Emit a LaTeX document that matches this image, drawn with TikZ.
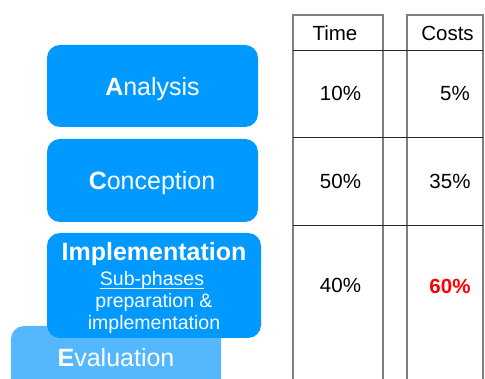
\documentclass[tikz,border=0pt]{standalone}
\usepackage{fontspec}
\setmainfont{Liberation Sans}
\definecolor{phaseblue}{HTML}{0099FF}
\definecolor{evalblue}{HTML}{55B8FF}
\definecolor{rulegray}{HTML}{7F7F7F}
\definecolor{hotred}{HTML}{FF0000}
\begin{document}
\begin{tikzpicture}[x=1pt,y=-1pt,
  phase/.style={fill=phaseblue, rounded corners=13pt, draw=none, inner sep=0pt},
  evalbox/.style={fill=evalblue, rounded corners=13pt, draw=none, inner sep=0pt},
  big/.style={text=white, anchor=base, inner sep=0pt, font=\fontsize{25}{25}\selectfont},
  small/.style={text=white, anchor=base, inner sep=0pt, font=\fontsize{19.5}{19.5}\selectfont},
  cell/.style={text=black, anchor=base, inner sep=0pt, font=\fontsize{20.5}{20.5}\selectfont},
  vrule/.style={draw=rulegray, line width=1.5pt},
  hrule/.style={draw=black!85, line width=1pt}]
\useasboundingbox (0,0) rectangle (485,379);
\clip (0,0) rectangle (485,379);
\fill[white] (0,0) rectangle (485,379);
% phase boxes
\node[evalbox, minimum width=210pt, minimum height=100pt] (evalb) at (116,376) {};
\node[phase, minimum width=211pt, minimum height=82pt] (anab) at (152.5,86) {};
\node[phase, minimum width=211pt, minimum height=83pt] (conb) at (152.5,180.5) {};
\node[phase, minimum width=214pt, minimum height=105pt] (impb) at (154,285.5) {};
% phase labels
\node[big] (anat) at (152.5,95.3) {\textbf{A}nalysis};
\node[big] (cont) at (152,190) {\textbf{C}onception};
\node[big] (impt) at (154,261) {\textbf{Implementation}};
\node[small] (subt) at (152,286) {Sub-phases};
\draw[white, line width=0.9pt] ([yshift=-2.5pt]subt.base west) -- ([yshift=-2.5pt]subt.base east);
\node[small] (prept) at (154,308) {preparation \&};
\node[small] (implt) at (154,330) {implementation};
\node[big] (evalt) at (116,367) {\textbf{E}valuation};
% table columns
\draw[vrule] (293,400) -- (293,15) -- (383,15) -- (383,400);
\draw[vrule] (407,400) -- (407,15) -- (483,15) -- (483,400);
\draw[hrule] (293,51) -- (483,51);
\draw[hrule] (293,138) -- (483,138);
\draw[hrule] (293,226) -- (483,226);
% table texts
\node[cell] (timeh) at (335,40.5) {Time};
\node[cell] (costh) at (447.5,40.5) {Costs};
\node[cell] (t1) at (340.5,101) {10\%};
\node[cell] (c1) at (455,101) {5\%};
\node[cell] (t2) at (340.5,188.5) {50\%};
\node[cell] (c2) at (450,188.5) {35\%};
\node[cell] (t3) at (340.5,293) {40\%};
\node[cell, text=hotred, font=\fontsize{20.5}{20.5}\selectfont\bfseries] (c3) at (450,294) {60\%};
\end{tikzpicture}
\end{document}
